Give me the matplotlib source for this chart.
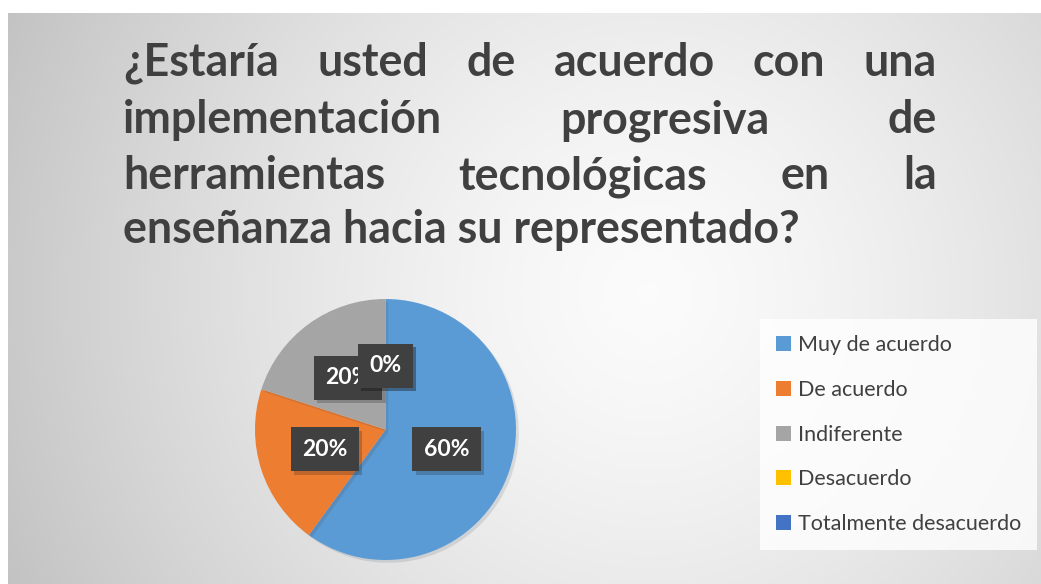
import numpy as np
import matplotlib
matplotlib.use('Agg')
import matplotlib.pyplot as plt
from matplotlib import patheffects as pe
from matplotlib.patches import Patch

# data
categories = ['Muy de acuerdo', 'De acuerdo', 'Indiferente', 'Desacuerdo', 'Totalmente desacuerdo']
values = [60, 20, 20, 0, 0]
colors = ['#5b9bd5', '#ed7d31', '#a5a5a5', '#ffc000', '#4472c4']
title_lines = [
    '¿Estaría usted de acuerdo con una',
    'implementación progresiva de',
    'herramientas tecnológicas en la',
    'enseñanza hacia su representado?',
]

W, H = 1041, 584
TXT = '#404040'
fig = plt.figure(figsize=(W / 100, H / 100), dpi=100)

# radial gradient background of the chart area
bg = fig.add_axes([8 / W, 0, 1 - 8 / W, (H - 13) / H])
yy, xx = np.mgrid[0:571, 0:1033]
d = np.clip(np.hypot(xx - 640, yy - 280) / 720, 0, 1)
shade = 0.985 - 0.23 * d ** 1.4
bg.imshow(np.dstack([shade] * 3), aspect='auto', interpolation='bilinear')
bg.axis('off')

# justified title
renderer = fig.canvas.get_renderer()
left, right = 123, 937
baselines = [76, 133, 189, 243]
fsize = 28
probe = fig.text(0, 0, title_lines[3], fontsize=fsize, fontweight='bold', family='Lato')
wl = probe.get_window_extent(renderer).width
probe.remove()
fsize = fsize * 677 / wl

for i, line in enumerate(title_lines):
    words = line.split()
    y = 1 - baselines[i] / H
    if i == len(title_lines) - 1:
        fig.text(left / W, y, line, fontsize=fsize, fontweight='bold', family='Lato',
                 color=TXT, va='baseline', ha='left')
        continue
    widths = []
    for w in words:
        t = fig.text(0, 0, w, fontsize=fsize, fontweight='bold', family='Lato')
        widths.append(t.get_window_extent(renderer).width)
        t.remove()
    gap = (right - left - sum(widths)) / (len(words) - 1)
    x = left
    for w, wd in zip(words, widths):
        fig.text(x / W, y, w, fontsize=fsize, fontweight='bold', family='Lato',
                 color=TXT, va='baseline', ha='left')
        x += wd + gap

# pie
ax = fig.add_axes([255 / W, 24 / H, 261 / W, 261 / H])
wedges, texts, autotexts = ax.pie(values, colors=colors, startangle=90, counterclock=False,
                                  autopct='%1.0f%%', pctdistance=0.49, radius=1,
                                  wedgeprops=dict(linewidth=0))
ax.set_xlim(-1, 1)
ax.set_ylim(-1, 1)
for w in wedges:
    w.set_path_effects([pe.SimplePatchShadow(offset=(2, -2), alpha=0.12), pe.Normal()])
for t in autotexts:
    t.set_color('white')
    t.set_fontsize(16.5)
    t.set_fontweight('bold')
    t.set_family('Lato')
    t.set_bbox(dict(boxstyle='square,pad=0.5', fc='#404040', ec='none'))
    t.get_bbox_patch().set_path_effects([pe.SimplePatchShadow(offset=(2.5, -2.5), alpha=0.22),
                                         pe.Normal()])

# legend
handles = [Patch(facecolor=c, edgecolor='none') for c in colors]
leg = fig.legend(handles, categories, loc='upper left', bbox_to_anchor=(760 / W, 1 - 319 / H),
                 frameon=True, fancybox=False, handlelength=0.7, handleheight=0.7,
                 handletextpad=0.3, labelspacing=1.15, borderpad=0.75, borderaxespad=0,
                 prop=dict(family='Lato', size=15.5))
leg.get_frame().set_facecolor((1, 1, 1, 0.18))
leg.get_frame().set_edgecolor('none')
for t in leg.get_texts():
    t.set_color(TXT)

fig.savefig('out.png', dpi=100)
